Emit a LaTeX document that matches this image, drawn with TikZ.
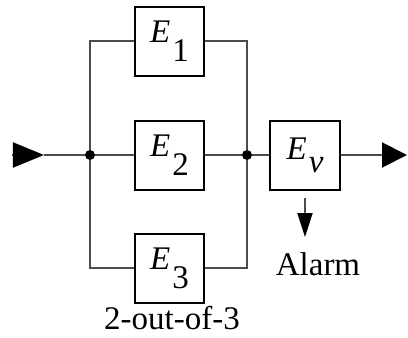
\documentclass[tikz,border=0pt]{standalone}
\usepackage{fontspec}
\setmainfont{Liberation Serif}
\usetikzlibrary{arrows.meta}
\newcommand\elbl[1]{\textit{E}\kern2bp\raisebox{-19bp}{#1}}
\tikzset{
  blk/.style={draw=black, line width=2bp, minimum width=69bp, minimum height=69bp,
    inner sep=0pt, font=\fontsize{33bp}{36bp}\selectfont},
  conn/.style={draw=black!70, line width=2bp},
  jdot/.style={circle, fill=black, inner sep=0pt, minimum size=10bp},
  lbltxt/.style={inner sep=0pt, font=\fontsize{33bp}{36bp}\selectfont},
}
\begin{document}
\begin{tikzpicture}[x=1bp,y=-1bp]
\useasboundingbox (0,0) rectangle (408,338);
\node[blk] (E1) at (169.5,41) {\elbl{1}};
\node[blk] (E2) at (169.5,155) {\elbl{2}};
\node[blk] (E3) at (169.5,268) {\elbl{3}};
\node[blk] (Ev) at (305,155) {\textit{E}\kern2bp\raisebox{-13bp}{\textit{v}}};
\node[jdot] (j1) at (90,155) {};
\node[jdot] (j2) at (247,155) {};
\coordinate (in) at (12,155);
\coordinate (intip) at (44,155);
\coordinate (out) at (407,155);
\coordinate (atop) at (305,198);
\coordinate (abot) at (305,237);
\node[lbltxt] (alarm) at (318,264) {Alarm};
\node[lbltxt] (k) at (172,318) {2-out-of-3};
% connectors
\draw[conn] (j1) |- (E1.west);
\draw[conn] (j1) |- (E3.west);
\draw[conn] (j1) -- (E2.west);
\draw[conn] (E1.east) -| (j2);
\draw[conn] (E3.east) -| (j2);
\draw[conn] (E2.east) -- (j2);
\draw[conn] (j2) -- (Ev.west);
\draw[conn] (intip) -- (j1);
\draw[conn, -{Triangle[length=31bp,width=25bp,color=black]}] (in) -- (intip);
\draw[conn, -{Triangle[length=25bp,width=25bp,color=black]}] (Ev.east) -- (out);
\draw[conn, -{Triangle[length=24bp,width=15bp,color=black]}] (atop) -- (abot);
\end{tikzpicture}
\end{document}
